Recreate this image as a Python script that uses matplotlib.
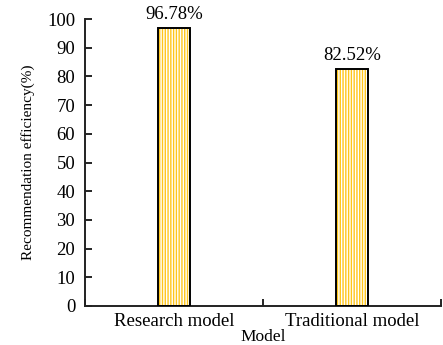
import matplotlib
matplotlib.use("Agg")
import matplotlib.pyplot as plt

categories = ["Research model", "Traditional model"]
efficiency = [96.78, 82.52]
labels = ["96.78%", "82.52%"]
yticks = [0, 10, 20, 30, 40, 50, 60, 70, 80, 90, 100]

plt.rcParams["font.family"] = ["Liberation Serif", "DejaVu Serif"]
plt.rcParams["hatch.linewidth"] = 1.0

fig = plt.figure(figsize=(4.43, 3.45), dpi=100)
ax = fig.add_axes([85 / 443, (345 - 306) / 345, (441 - 85) / 443, (306 - 19) / 345])

x = list(range(len(categories)))
width = 0.175
# striped fill, then a black outline on top
ax.bar(x, efficiency, width=width, color="white", edgecolor="#FFC61A",
       hatch="||||||", linewidth=0, zorder=2)
ax.bar(x, efficiency, width=width, fill=False, edgecolor="black",
       linewidth=1.4, zorder=3)

for xi, v, t in zip(x, efficiency, labels):
    ax.text(xi, v + 1.8, t, ha="center", va="bottom", fontsize=13.5)

ax.set_xlim(-0.5, 1.5)
ax.set_ylim(0, 100)
ax.set_yticks(yticks)
ax.tick_params(axis="y", direction="in", length=5, width=1.2, labelsize=13.5, pad=7)

ax.set_xticks([-0.5, 0.5, 1.5])
ax.set_xticklabels([])
ax.tick_params(axis="x", direction="in", length=5, width=1.2)
ax.set_xticks(x, minor=True)
ax.set_xticklabels(categories, minor=True, fontsize=13.5)
ax.tick_params(axis="x", which="minor", length=0, pad=5)

for s in ["top", "right"]:
    ax.spines[s].set_visible(False)
for s in ["left", "bottom"]:
    ax.spines[s].set_linewidth(1.4)
    ax.spines[s].set_color("#222222")

ax.set_xlabel("Model", fontsize=12.5, va="bottom")
ax.xaxis.set_label_coords(0.5, -0.1345)
ax.set_ylabel("Recommendation efficiency(%)", fontsize=11, labelpad=9)

fig.savefig("out.png", dpi=100)
